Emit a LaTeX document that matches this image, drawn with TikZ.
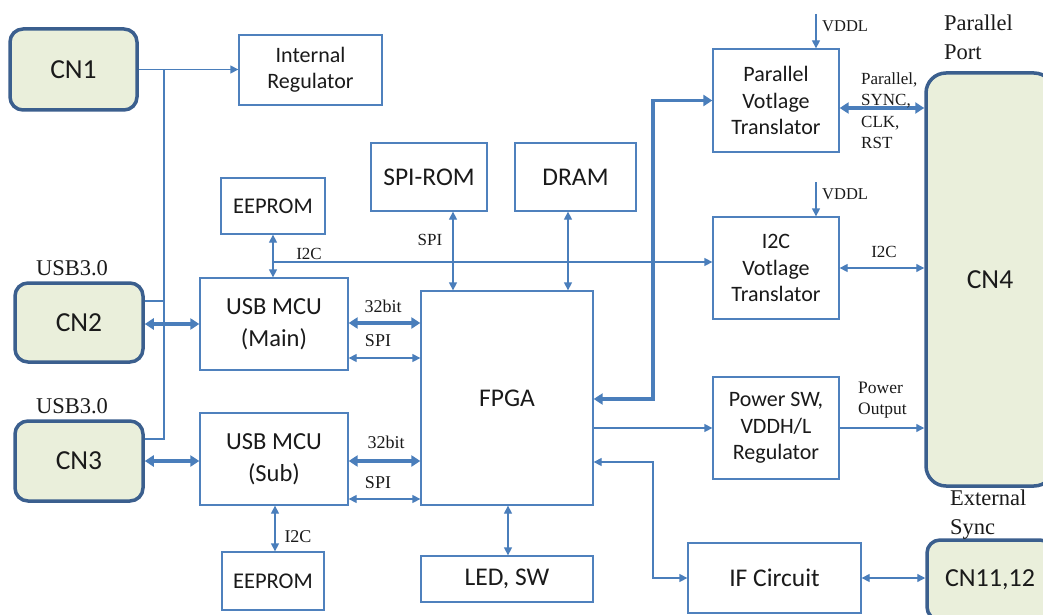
\documentclass[tikz,border=0pt]{standalone}
\usepackage{fontspec}
\setmainfont{Liberation Serif}
\newfontfamily\boxfont{Carlito}
\usetikzlibrary{arrows.meta}
\definecolor{wire}{HTML}{4A7EBB}
\definecolor{boxline}{HTML}{4F81BD}
\definecolor{conline}{HTML}{3B5F8E}
\definecolor{confill}{HTML}{EAEFDB}
\definecolor{ink}{HTML}{1A1A1A}
\tikzset{
  blk/.style={draw=boxline, line width=1.3pt, fill=white, text=ink, align=center,
    inner sep=0pt, font=\boxfont\fontsize{22}{26.5}\selectfont},
  bigblk/.style={blk, font=\boxfont\fontsize{25.5}{30}\selectfont},
  mcublk/.style={blk, font=\boxfont\fontsize{24.5}{32}\selectfont},
  conn/.style={draw=conline, line width=3.5pt, fill=confill, rounded corners=13pt,
    text=ink, align=center, inner sep=0pt, font=\boxfont\fontsize{27.5}{32}\selectfont},
  lbl/.style={text=ink, inner sep=0pt, align=left, font=\fontsize{17}{21}\selectfont},
  buslbl/.style={lbl, font=\fontsize{18}{21}\selectfont},
  biglbl/.style={text=ink, inner sep=0pt, align=left, font=\fontsize{22.5}{28.5}\selectfont},
  thinw/.style={draw=wire, line width=1.3pt},
  thickw/.style={draw=wire, line width=3.6pt},
  tip/.style={thinw, arrows={-Triangle[length=8pt,width=8pt]}},
  tips/.style={thinw, arrows={Triangle[length=8pt,width=8pt]-Triangle[length=8pt,width=8pt]}},
  ftips/.style={thickw, arrows={Triangle[length=9pt,width=11pt]-Triangle[length=9pt,width=11pt]}},
}
\begin{document}
\begin{tikzpicture}[x=1pt,y=-1pt]
\clip (0,0) rectangle (1043,615);
\fill[white] (0,0) rectangle (1043,615);

% connectors (plugs)
\node[conn, minimum width=127pt, minimum height=81pt] (cn1) at (73.5,69.5) {CN1};
\node[conn, minimum width=128pt, minimum height=79pt] (cn2) at (79,322.5) {CN2};
\node[conn, minimum width=128pt, minimum height=80pt] (cn3) at (79,461) {CN3};
\node[conn, minimum width=128pt, minimum height=413pt, rounded corners=20pt] (cn4) at (990,279.5) {CN4};
\node[conn, minimum width=126pt, minimum height=80pt, font=\boxfont\fontsize{26}{30}\selectfont] (cn11) at (990,580) {CN11,12};

% functional blocks
\node[blk, minimum width=143pt, minimum height=70pt] (ireg) at (310.5,70) {Internal\\Regulator};
\node[blk, minimum width=104pt, minimum height=56pt, font=\boxfont\fontsize{22.5}{27}\selectfont] (eepa) at (273,206) {EEPROM};
\node[mcublk, minimum width=148pt, minimum height=92pt] (mcum) at (274,324) {USB MCU\\(Main)};
\node[mcublk, minimum width=148pt, minimum height=92pt] (mcus) at (274,459) {USB MCU\\(Sub)};
\node[blk, minimum width=102pt, minimum height=58pt, font=\boxfont\fontsize{22.5}{27}\selectfont] (eepb) at (273,581) {EEPROM};
\node[bigblk, minimum width=116pt, minimum height=68pt] (spirom) at (429,177) {SPI-ROM};
\node[bigblk, minimum width=121pt, minimum height=68pt] (dram) at (575.5,177) {DRAM};
\node[bigblk, minimum width=172pt, minimum height=214pt] (fpga) at (507,398) {FPGA};
\node[bigblk, minimum width=172pt, minimum height=46pt] (led) at (507,579) {LED, SW};
\node[blk, minimum width=126pt, minimum height=103pt] (pvt) at (776,100.5) {Parallel\\Votlage\\Translator};
\node[blk, minimum width=126pt, minimum height=102pt] (ivt) at (776,268) {I2C\\Votlage\\Translator};
\node[blk, minimum width=126pt, minimum height=102pt] (pwr) at (776,428) {Power SW,\\VDDH/L\\Regulator};
\node[bigblk, minimum width=173pt, minimum height=70pt] (ifc) at (774.5,578) {IF Circuit};

% power distribution from CN1
\coordinate (busT) at (164,69.5);
\coordinate (busM) at (164,301);
\coordinate (busB) at (164,439);
\draw[tip] (cn1.east) -- (ireg.west |- cn1.east);
\draw[thinw] (busT) -- (busB) -- (busB -| cn3.east);
\draw[thinw] (busM) -- (busM -| cn2.east);

% USB links
\draw[ftips] (mcum.west -| cn2.east) -- (mcum.west);
\draw[ftips] ([yshift=-2pt]mcus.west -| cn3.east) -- ([yshift=-2pt]mcus.west);

% MCU to FPGA buses
\draw[ftips] ([yshift=1pt]mcum.east) -- ([yshift=1pt]mcum.east -| fpga.west);
\draw[tips] ([yshift=-34pt]mcum.east) -- ([yshift=-34pt]mcum.east -| fpga.west);
\draw[ftips] ([yshift=-2pt]mcus.east) -- ([yshift=-2pt]mcus.east -| fpga.west);
\draw[tips] ([yshift=-40pt]mcus.east) -- ([yshift=-40pt]mcus.east -| fpga.west);

% EEPROM links and I2C line
\draw[tips] (eepa.south) -- (eepa.south |- mcum.north);
\coordinate (i2cT) at (273,262);
\draw[tip] (i2cT) -- (i2cT -| ivt.west);
\draw[tips] ([xshift=2pt]eepb.north) -- ([xshift=2pt]eepb.north |- mcus.south);

% memories and LED
\draw[tips] ([xshift=24pt]spirom.south) -- ([xshift=24pt]spirom.south |- fpga.north);
\draw[tips] ([xshift=-7.5pt]dram.south) -- ([xshift=-7.5pt]dram.south |- fpga.north);
\draw[tips] ([xshift=1pt]led.north) -- ([xshift=1pt]led.north |- fpga.south);

% FPGA to the right-hand side
\coordinate (pbend) at (653,399);
\draw[ftips] (pbend -| fpga.east) -- (pbend) |- (pvt.west);
\draw[tip] (pwr.west -| fpga.east) -- (pwr.west);
\coordinate (ifbend) at (653,462);
\draw[tips] (ifc.west) -| (ifbend) -- (ifbend -| fpga.east);

% supply inputs
\coordinate (vdd1) at (816,14);
\coordinate (vdd2) at (816,182);
\draw[tip] (vdd1) -- (vdd1 |- pvt.north);
\draw[tip] (vdd2) -- (vdd2 |- ivt.north);

% links to the output connectors
\draw[ftips] ([yshift=-7.5pt]pvt.east) -- ([yshift=-7.5pt]pvt.east -| cn4.west);
\draw[tips] (ivt.east) -- (ivt.east -| cn4.west);
\draw[tip] (pwr.east) -- (pwr.east -| cn4.west);
\draw[tips] (ifc.east) -- (ifc.east -| cn11.west);

% labels
\node[biglbl] (u1) at (72,268) {USB3.0};
\node[biglbl] (u2) at (72,406) {USB3.0};
\node[biglbl, anchor=north west] (pport) at (944,15) {Parallel\\Port};
\node[biglbl, anchor=north west] (esync) at (950,490) {External\\Sync};
\node[lbl, font=\fontsize{16.5}{20}\selectfont, anchor=west] (vl1) at (822,26.5) {VDDL};
\node[lbl, font=\fontsize{16.5}{20}\selectfont, anchor=west] (vl2) at (822,194) {VDDL};
\node[lbl, anchor=north west, font=\fontsize{17}{21.3}\selectfont] (psig) at (861,72.5) {Parallel,\\SYNC,\\CLK,\\RST};
\node[lbl] (i2cr) at (884,252) {I2C};
\node[lbl, anchor=north west, font=\fontsize{17.5}{21.5}\selectfont] (pout) at (858,381.5) {Power\\Output};
\node[lbl] (i2ct) at (309,254) {I2C};
\node[buslbl] (i2cb) at (298,537) {I2C};
\node[lbl] (spit) at (430,240) {SPI};
\node[buslbl] (b32a) at (383,306) {32bit};
\node[buslbl] (spia) at (378,341) {SPI};
\node[buslbl] (b32b) at (386,442) {32bit};
\node[buslbl] (spib) at (378,483) {SPI};
\end{tikzpicture}
\end{document}
